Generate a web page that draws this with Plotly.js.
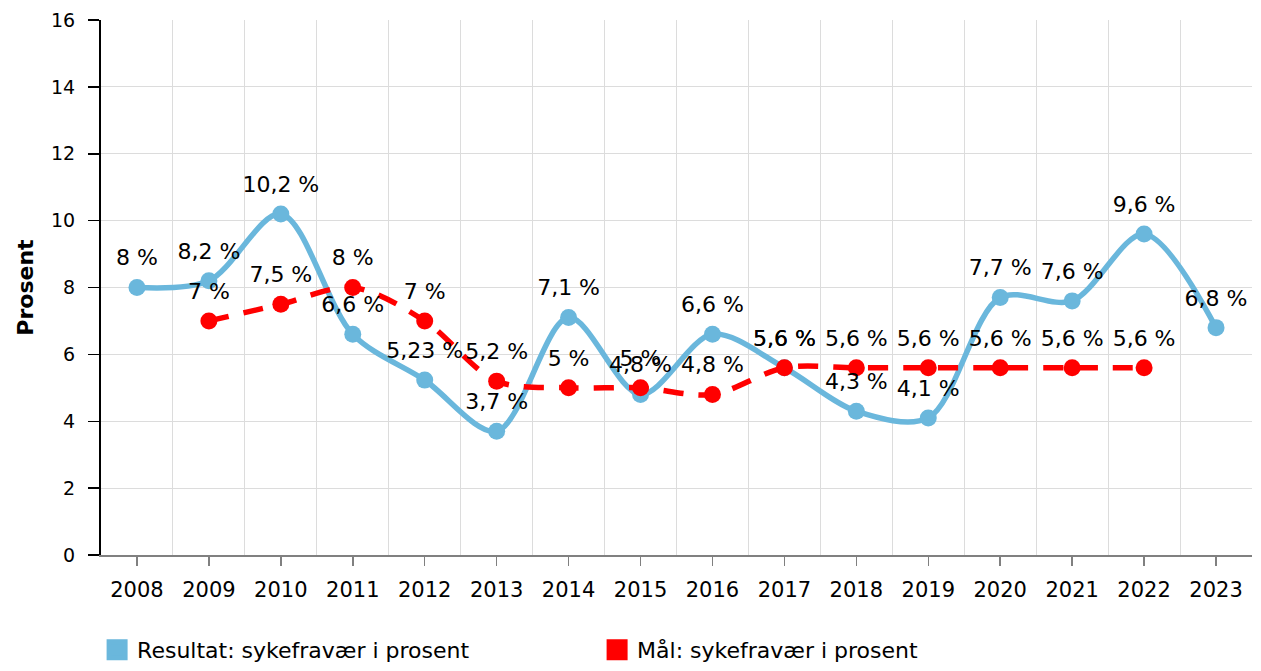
<!DOCTYPE html>
<html>
<head>
<meta charset="utf-8">
<script src="https://cdn.plot.ly/plotly-3.0.1.min.js"></script>
<style>html,body{margin:0;padding:0;background:#fff}#chart{width:1261px;height:671px}</style>
</head>
<body>
<div id="chart"></div>
<script>
const years = ["2008","2009","2010","2011","2012","2013","2014","2015","2016","2017","2018","2019","2020","2021","2022","2023"];
const resultat = [8, 8.2, 10.2, 6.6, 5.23, 3.7, 7.1, 4.8, 6.6, 5.6, 4.3, 4.1, 7.7, 7.6, 9.6, 6.8];
const maal = [null, 7, 7.5, 8, 7, 5.2, 5, 5, 4.8, 5.6, 5.6, 5.6, 5.6, 5.6, 5.6, null];
const seriesNames = ["Resultat: sykefravær i prosent", "Mål: sykefravær i prosent"];
const yTicks = [0, 2, 4, 6, 8, 10, 12, 14, 16];

const idx = years.map((_, i) => i);
const fmt = v => v == null ? "" : String(v).replace(".", ",") + " %";
const FONT = "DejaVu Sans, Verdana, sans-serif";
const BLUE = "#6ab7dc", RED = "#ff0000";

function lineTrace(vals, color, dash) {
  return {
    x: idx, y: vals, type: "scatter", mode: "lines+markers",
    line: {color: color, width: 5.5, shape: "spline", smoothing: 0.9, dash: dash},
    marker: {color: color, size: 17},
    showlegend: false, cliponaxis: false, hoverinfo: "skip"
  };
}
function labelTrace(vals) {
  return {
    x: idx, y: vals, type: "scatter", mode: "markers+text",
    marker: {color: "rgba(0,0,0,0)", size: 25},
    text: vals.map(fmt), textposition: "top center",
    textfont: {family: FONT, size: 22, color: "#000"},
    showlegend: false, cliponaxis: false, hoverinfo: "skip"
  };
}

const traces = [
  lineTrace(resultat, BLUE, "solid"),
  lineTrace(maal, RED, "20px,15px"),
  labelTrace(resultat),
  labelTrace(maal),
  {x: [null], y: [null], type: "scatter", mode: "markers", name: seriesNames[0],
   marker: {symbol: "square", color: BLUE, size: 16, line: {color: BLUE, width: 5}}},
  {x: [null], y: [null], type: "scatter", mode: "markers", name: seriesNames[1],
   marker: {symbol: "square", color: RED, size: 16, line: {color: RED, width: 5}}}
];

const minorVals = [];
for (let i = 0; i < years.length; i++) minorVals.push(i + 0.5);

const layout = {
  width: 1261, height: 671,
  margin: {l: 101, r: 9, t: 20, b: 116},
  paper_bgcolor: "#fff", plot_bgcolor: "#fff",
  font: {family: FONT, size: 18, color: "#000"},
  showlegend: true,
  legend: {
    orientation: "h", x: 0.077, xref: "container", xanchor: "left",
    y: -0.012, yref: "container", yanchor: "bottom",
    font: {family: FONT, size: 22, color: "#000"},
    itemsizing: "trace", entrywidth: 455, entrywidthmode: "pixels",
    itemclick: false, itemdoubleclick: false
  },
  xaxis: {
    range: [-0.5, 15.5], tickmode: "array", tickvals: idx, ticktext: years,
    showgrid: false, zeroline: false,
    showline: true, linecolor: "#808080", linewidth: 2,
    ticks: "outside", ticklen: 9, tickwidth: 1.5, tickcolor: "#808080",
    ticklabelstandoff: 6,
    tickfont: {family: FONT, size: 21, color: "#000"},
    minor: {tickmode: "array", tickvals: minorVals, showgrid: true, gridcolor: "#dcdcdc", gridwidth: 1, ticks: ""},
    fixedrange: true
  },
  yaxis: {
    range: [0, 16], tickmode: "array", tickvals: yTicks,
    showgrid: true, gridcolor: "#dcdcdc", gridwidth: 1, zeroline: false,
    showline: true, linecolor: "#000", linewidth: 2,
    ticks: "outside", ticklen: 11, tickwidth: 1.5, tickcolor: "#000",
    ticklabelstandoff: 9,
    tickfont: {family: FONT, size: 19, color: "#000"},
    title: {text: "Prosent", font: {family: FONT, size: 22, color: "#000", weight: "bold"}, standoff: 11},
    fixedrange: true
  }
};

Plotly.newPlot("chart", traces, layout, {displayModeBar: false, staticPlot: true});
</script>
</body>
</html>
